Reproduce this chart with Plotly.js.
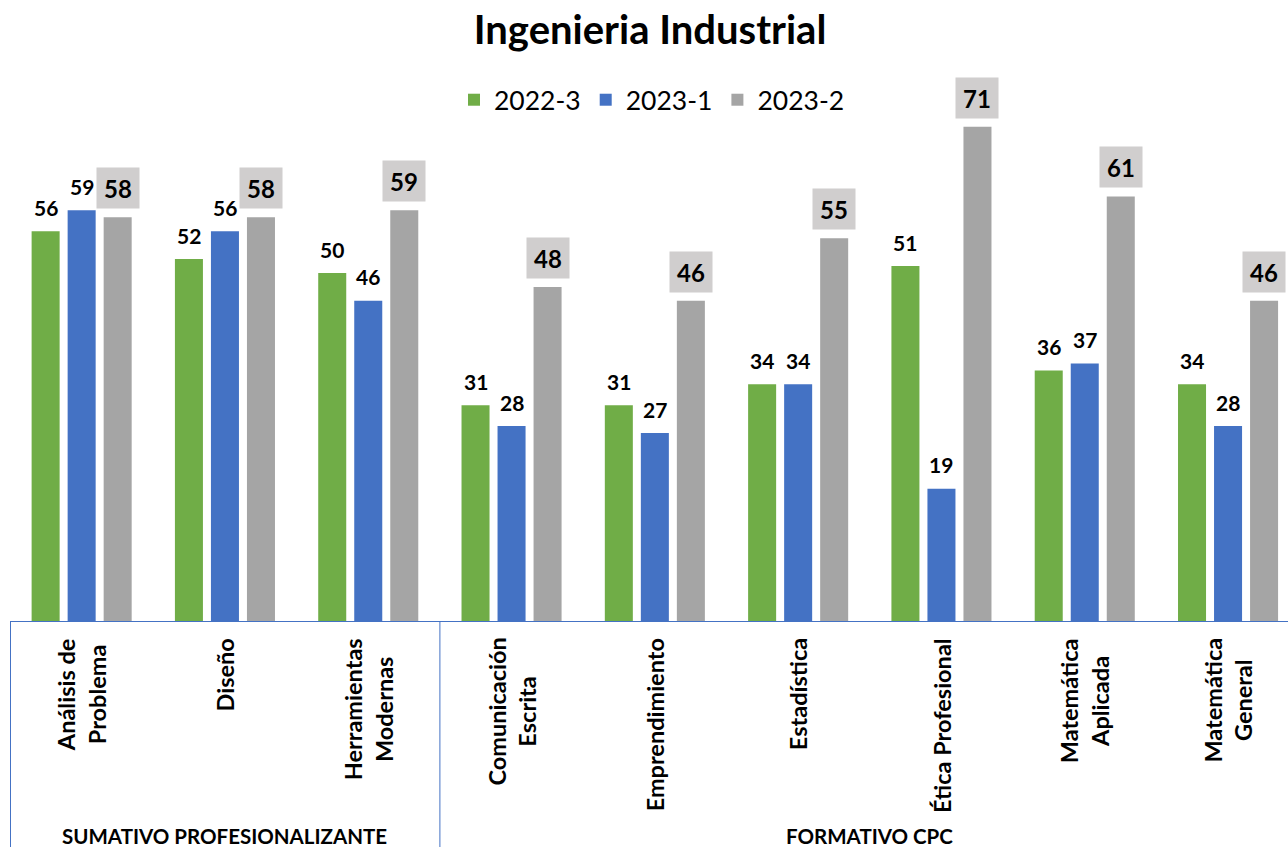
<!DOCTYPE html>
<html>
<head>
<meta charset="utf-8">
<script src="https://cdn.plot.ly/plotly-3.0.1.min.js"></script>
<style>html,body{margin:0;padding:0;background:#fff;}#chart{width:1288px;height:847px;}</style>
</head>
<body>
<div id="chart"></div>
<script>
// ---- data ----
var categories = ["Análisis de<br>Problema", "Diseño", "Herramientas<br>Modernas", "Comunicación<br>Escrita", "Emprendimiento", "Estadística", "Ética Profesional", "Matemática<br>Aplicada", "Matemática<br>General"];
var seriesNames = ["2022-3", "2023-1", "2023-2"];
var s2022_3 = [56, 52, 50, 31, 31, 34, 51, 36, 34];
var s2023_1 = [59, 56, 46, 28, 27, 34, 19, 37, 28];
var s2023_2 = [58, 58, 59, 48, 46, 55, 71, 61, 46];
var groupLabels = ["SUMATIVO PROFESIONALIZANTE", "FORMATIVO CPC"];
var groupStart = [0, 3];
var groupEnd = [2, 8];
var chartTitle = "Ingenieria Industrial";

// ---- style ----
var colors = ["#70ad47", "#4472c4", "#a5a5a5"];
var FONT = "Lato, 'Open Sans', sans-serif";
var W = 1288, H = 847;
var mT = 60, mB = 226, mL = 10, mR = 0;
var plotH = H - mT - mB;
var pxPerUnit = 6.96;
var yMax = plotH / pxPerUnit;
var slotPx = 143.3;
var xr0 = -0.5, xr1 = -0.5 + (W - mL - mR) / slotPx;
function py(pix) { return (H - mB - pix) / plotH; } // pixel row -> paper y
function paperX(v) { return (v - xr0) / (xr1 - xr0); }
function pxX(pix) { return (pix - mL) / (W - mL - mR); }

var all = [s2022_3, s2023_1, s2023_2];
var traces = all.map(function (vals, k) {
  return {
    type: "bar", name: seriesNames[k], x: categories, y: vals,
    marker: { color: colors[k] }, textposition: "none", hoverinfo: "x+y+name"
  };
});

var annotations = [];
var shifts = [-36, 0, 36];
all.forEach(function (vals, k) {
  vals.forEach(function (v, i) {
    if (k < 2) {
      annotations.push({
        xref: "x", yref: "y", x: i, y: v, xshift: shifts[k], yshift: 24,
        text: "<b>" + v + "</b>", showarrow: false, yanchor: "middle",
        font: { family: FONT, size: 21, color: "#000" }
      });
    } else {
      annotations.push({
        xref: "x", yref: "y", x: i, y: v, xshift: shifts[k], yshift: 29,
        text: "<b>" + v + "</b>", showarrow: false, yanchor: "middle",
        width: 40, height: 38, bgcolor: "#d0cece",
        font: { family: FONT, size: 24, color: "#000" }
      });
    }
  });
});
categories.forEach(function (c, i) {
  annotations.push({
    xref: "x", yref: "paper", x: i, y: py(636), textangle: -90,
    text: "<b>" + c + "</b>", showarrow: false, yanchor: "top", xanchor: "center",
    align: "center", font: { family: FONT, size: 23.5, color: "#000" }
  });
});
groupLabels.forEach(function (g, j) {
  annotations.push({
    xref: "x", yref: "paper", x: (groupStart[j] + groupEnd[j]) / 2, y: py(836),
    text: "<b>" + g + "</b>", showarrow: false, yanchor: "middle",
    font: { family: FONT, size: 20.5, color: "#000" }
  });
});

var shapes = [];
var dividers = [groupStart[0] - 0.5, groupEnd[0] + 0.5];
dividers.forEach(function (d) {
  var xx = paperX(d);
  if (xx <= 0) xx = 0.0004;
  shapes.push({
    type: "line", xref: "paper", yref: "paper", x0: xx, x1: xx, y0: 0, y1: py(H + 5),
    line: { color: "#4472c4", width: 1 }
  });
});

var layout = {
  width: W, height: H,
  margin: { t: mT, b: mB, l: mL, r: mR, pad: 0 },
  paper_bgcolor: "#fff", plot_bgcolor: "#fff",
  title: { text: chartTitle, x: pxX(655), xanchor: "center", y: 1 - 30 / H, yanchor: "middle",
           font: { family: FONT, size: 40, color: "#000", weight: "bold" } },
  barmode: "group", bargap: 0.246, bargroupgap: 0.222,
  showlegend: true,
  legend: { orientation: "h", x: pxX(454), xanchor: "left", y: py(100), yanchor: "middle",
            font: { family: FONT, size: 26.5, color: "#000" }, bgcolor: "rgba(0,0,0,0)" },
  xaxis: { type: "category", range: [xr0, xr1], showticklabels: false, ticks: "",
           showline: true, linecolor: "#4472c4", linewidth: 1, showgrid: false, zeroline: false, fixedrange: true },
  yaxis: { range: [0, yMax], visible: false, showgrid: false, zeroline: false, fixedrange: true },
  annotations: annotations,
  shapes: shapes,
  font: { family: FONT }
};

Plotly.newPlot("chart", traces, layout, { displayModeBar: false, staticPlot: true });
</script>
</body>
</html>
